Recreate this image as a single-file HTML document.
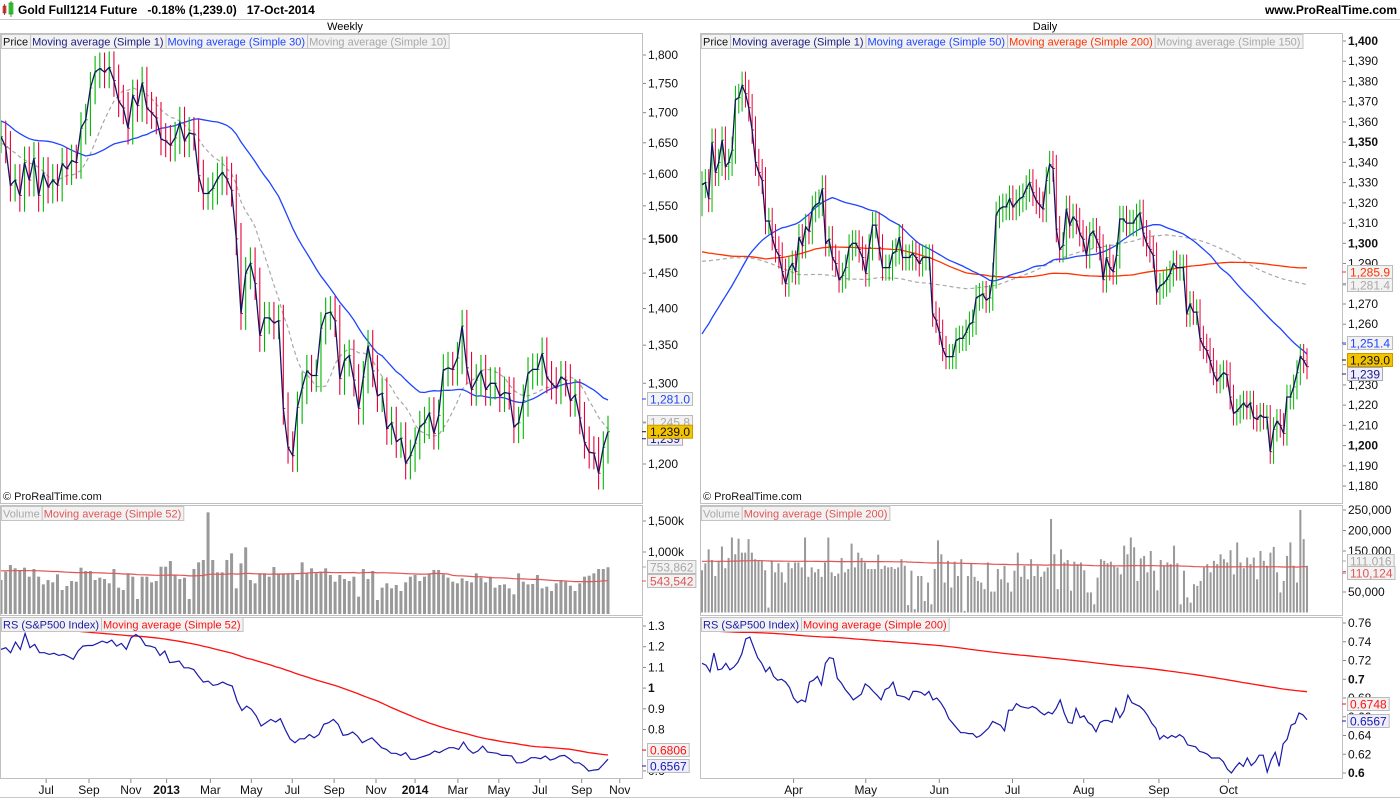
<!DOCTYPE html>
<html><head><meta charset="utf-8">
<style>
html,body{margin:0;padding:0;background:#fff;}
svg{display:block;font-family:"Liberation Sans",Arial,sans-serif;}
</style></head>
<body>
<svg id="chart" width="1400" height="800" viewBox="0 0 1400 800" xmlns="http://www.w3.org/2000/svg"></svg>
<script>
// ---------- DATA ----------
const W_PRIOR = [1720,1740,1760,1790,1720,1750,1710,1690,1600,1610,1600,1630,1660,1690,1730,1740,1720,1760,1780,1700,1710,1670,1660,1640,1630,1660,1650,1640,1620,1660];
const W_CLOSE = [1660,1643,1582,1590,1566,1618,1590,1625,1566,1601,1579,1590,1582,1616,1608,1621,1618,1674,1688,1742,1770,1776,1770,1778,1755,1720,1708,1674,1729,1712,1751,1708,1700,1691,1656,1653,1646,1658,1683,1653,1666,1664,1597,1569,1569,1577,1592,1602,1592,1574,1500,1393,1450,1464,1435,1363,1387,1387,1380,1383,1268,1220,1210,1269,1294,1316,1310,1310,
1373,1393,1395,1383,1306,1330,1336,1304,1268,1308,1349,1316,1284,1287,1243,1250,1227,1231,1201,1210,1225,1245,1250,1262,1237,1259,1317,1320,1318,1333,1376,1320,1292,1304,1316,1292,1300,1300,1284,1288,1287,1245,1250,1278,1313,1318,1318,1339,1308,1300,1294,1308,1304,1278,1285,1256,1226,1214,1213,1189,1220,1239];
const W_VOL = [548,683,790,737,710,747,602,726,602,478,548,511,640,387,452,532,521,747,694,694,548,586,564,495,726,425,387,656,602,242,602,602,511,532,763,763,855,629,564,586,242,726,833,871,1640,871,672,672,871,978,414,817,1075,548,495,656,656,602,758,656,656,656,656,548,833,656,737,656,683,737,629,521,629,564,532,602,280,726,564,694,226,425,495,414,468,371,511,602,629,532,602,656,710,710,640,586,521,495,575,532,511,656,586,511,602,425,468,478,414,317,656,521,478,484,629,414,441,371,495,548,521,457,371,495,602,618,656,726,726,754];
const W_VOL_PRIOR = 700;
const W_RS = [1.187,1.195,1.171,1.222,1.187,1.264,1.195,1.211,1.171,1.171,1.163,1.168,1.158,1.163,1.152,1.139,1.179,1.203,1.206,1.206,1.216,1.227,1.219,1.232,1.203,1.216,1.187,1.243,1.259,1.243,1.206,1.203,1.195,1.158,1.179,1.123,1.126,1.131,1.098,1.098,1.090,1.058,1.029,1.034,1.013,1.018,1.029,1.018,1.010,0.937,0.892,0.913,0.897,0.865,0.817,0.833,0.849,0.836,0.852,0.800,0.755,0.736,0.755,0.755,0.776,0.760,0.776,0.825,0.833,0.849,0.825,0.772,0.776,0.788,0.768,0.736,0.749,0.760,0.736,0.712,0.704,0.685,0.685,0.675,0.688,0.656,0.656,0.665,0.672,0.680,0.696,0.688,0.701,0.712,0.712,0.704,0.739,0.704,0.685,0.696,0.720,0.691,0.688,0.685,0.675,0.675,0.672,0.639,0.639,0.648,0.664,0.664,0.659,0.672,0.652,0.659,0.672,0.675,0.659,0.639,0.639,0.623,0.599,0.604,0.607,0.631,0.6567];
const W_RS_PRIOR = 1.32;
const W_XLABELS = ['Jul','Sep','Nov','2013','Mar','May','Jul','Sep','Nov','2014','Mar','May','Jul','Sep','Nov'];
const W_XIDX = [9.6,18.7,27.6,35.2,44.5,53.2,61.9,70.8,79.7,88.0,97.1,105.8,114.5,123.4,131.5];
const W_PRICE_TICKS = [1200,1250,1300,1350,1400,1450,1500,1550,1600,1650,1700,1750,1800];
const W_VOL_TICKS = [1000,1500];
const W_RS_TICKS = [0.6,0.7,0.8,0.9,1,1.1,1.2,1.3];

const D_START_WEEK = 96;
const D_CLOSE = [1329,1330,1322,1350,1335,1340,1351,1338,1340,1346,1371,1372,1378,1374,1367,1356,1340,1335,1331,1311,1311,1303,1297,1294,1286,1280,1287,1290,1286,1303,1299,1308,1306,1317,1319,1320,1327,1300,1302,1293,1290,1282,1284,1288,1298,1300,1300,1297,1293,1285,1298,1309,1309,1298,1288,1288,1288,1295,1296,1303,1293,1293,1293,1295,1293,1290,1293,1293,1293,1265,1262,1256,1248,1244,1244,1244,1252,1253,1253,1256,1260,1261,1273,1274,1275,1272,1273,1284,1314,1317,1318,1318,1322,1318,1320,1322,
1323,1327,1330,1325,1321,1319,1317,1331,1339,1337,1307,1297,1299,1317,1309,1313,1311,1305,1302,1294,1304,1306,1302,1298,1282,1293,1288,1286,1294,1312,1312,1310,1310,1310,1313,1315,1305,1300,1297,1294,1276,1279,1280,1282,1285,1290,1288,1288,1288,1265,1270,1266,1266,1253,1249,1247,1242,1236,1232,1234,1236,1235,1224,1216,1217,1219,1221,1219,1221,1214,1213,1215,1214,1214,1197,1208,1212,1210,1206,1224,1224,1229,1236,1244,1242,1239];
const D_VOL = [103,120,154,128,89,126,161,108,133,183,142,180,146,146,179,146,130,128,126,103,12,126,98,120,98,73,122,108,122,122,110,183,87,110,98,106,87,122,183,98,89,95,133,98,106,168,110,146,133,122,106,106,106,141,106,114,110,111,106,110,130,114,18,102,8,89,89,28,73,20,106,176,142,73,126,61,124,89,130,4,89,120,87,77,73,57,122,51,51,106,81,114,73,51,102,146,87,114,81,130,89,114,87,100,110,228,142,57,154,122,128,53,124,118,122,103,49,49,20,85,130,126,120,124,114,110,93,163,142,183,159,77,132,138,98,150,102,54,128,115,122,118,163,120,20,102,37,24,69,65,77,110,118,98,126,118,142,130,122,152,93,171,122,108,134,118,134,81,150,126,114,146,160,98,49,77,138,171,114,73,250,179,114];
const D_VOL_PRIOR = 125;
const D_RS = [0.717,0.715,0.708,0.728,0.710,0.711,0.717,0.710,0.713,0.718,0.727,0.743,0.745,0.734,0.723,0.717,0.708,0.713,0.703,0.699,0.700,0.697,0.691,0.680,0.675,0.678,0.676,0.697,0.699,0.703,0.694,0.717,0.723,0.722,0.701,0.696,0.689,0.684,0.678,0.681,0.684,0.695,0.692,0.687,0.683,0.678,0.689,0.691,0.697,0.683,0.682,0.681,0.678,0.687,0.687,0.686,0.683,0.687,0.678,0.680,0.675,0.668,0.658,0.653,0.648,0.643,0.643,0.642,0.642,0.638,0.640,0.644,0.648,0.655,0.653,0.651,0.645,0.667,0.667,0.674,0.671,0.670,0.669,0.671,0.669,0.665,0.662,0.665,0.663,0.669,0.678,0.664,0.654,0.653,0.669,0.659,0.661,0.654,0.651,0.644,0.654,0.656,0.656,0.654,0.669,0.659,0.666,0.683,0.675,0.673,0.671,0.667,0.661,0.653,0.648,0.636,0.640,0.637,0.640,0.638,0.641,0.638,0.630,0.629,0.628,0.623,0.622,0.620,0.616,0.616,0.616,0.612,0.604,0.600,0.606,0.611,0.607,0.616,0.608,0.612,0.619,0.619,0.601,0.614,0.622,0.607,0.631,0.636,0.651,0.653,0.664,0.662,0.6567];
const D_RS_PRIOR = 0.752;
const D_XLABELS = ['Apr','May','Jun','Jul','Aug','Sep','Oct'];
const D_XIDX = [27.4,49.0,71.0,92.9,114.2,136.7,157.5];
const D_PRICE_TICKS = [1180,1190,1200,1210,1220,1230,1240,1250,1260,1270,1280,1290,1300,1310,1320,1330,1340,1350,1360,1370,1380,1390,1400];
const D_VOL_TICKS = [50,100,150,200,250];
const D_RS_TICKS = [0.6,0.62,0.64,0.66,0.68,0.7,0.72,0.74,0.76];

// ---------- HELPERS ----------
const NS = 'http://www.w3.org/2000/svg';
const svg = document.getElementById('chart');
function mk(tag, attrs, parent){
  const e = document.createElementNS(NS, tag);
  for (const k in attrs) e.setAttribute(k, attrs[k]);
  (parent || svg).appendChild(e);
  return e;
}
function sma(series, prior, n){
  const full = prior.concat(series), out = [];
  for (let i = 0; i < series.length; i++){
    const end = prior.length + i, st = Math.max(0, end - n + 1);
    let s = 0; for (let j = st; j <= end; j++) s += full[j];
    out.push(s / (end - st + 1));
  }
  return out;
}
function fill(v, n){ return Array(n).fill(v); }
function fmt(v){ return v.toLocaleString('en-US'); }
function pathFrom(arr, xf, yf){
  return arr.map((v,i)=>(i?'L':'M')+xf(i).toFixed(1)+' '+yf(v).toFixed(1)).join(' ');
}

// ---------- GEOMETRY ----------
const L = {x0:0, x1:642}, R = {x0:700, x1:1342};
const P = {y0:33, y1:503}, V = {y0:505, y1:615}, S = {y0:617, y1:778};

const hdr = mk('g', {});


mk('rect', {x:3, y:6, width:3, height:7, fill:'#e05050', stroke:'#a02020', 'stroke-width':0.6}, hdr);
mk('line', {x1:4.5, y1:4, x2:4.5, y2:15, stroke:'#a02020', 'stroke-width':0.8}, hdr);
mk('rect', {x:9, y:3, width:4, height:11, fill:'#40e040', stroke:'#108010', 'stroke-width':0.6}, hdr);
mk('line', {x1:11, y1:1, x2:11, y2:17, stroke:'#108010', 'stroke-width':0.8}, hdr);
const ht = mk('text', {x:18, y:14, 'font-size':12, 'font-weight':'bold', fill:'#000'}, hdr);
ht.textContent = 'Gold Full1214 Future   -0.18% (1,239.0)   17-Oct-2014';
ht.style.whiteSpace = 'pre';


const web = mk('text', {x:1397, y:14, 'font-size':12, 'font-weight':'bold', 'text-anchor':'end', fill:'#000'}, hdr);
web.textContent = 'www.ProRealTime.com';


mk('line', {x1:0, y1:19.5, x2:1400, y2:19.5, stroke:'#c8c8c8'}, hdr);
mk('line', {x1:0, y1:797.5, x2:1400, y2:797.5, stroke:'#c8c8c8'}, hdr);
const wk = mk('text', {x:345, y:30, 'font-size':11, 'text-anchor':'middle'}, hdr);
wk.textContent = 'Weekly';


const dy = mk('text', {x:1045, y:30, 'font-size':11, 'text-anchor':'middle'}, hdr);
dy.textContent = 'Daily';



let clipN = 0;
function panel(side, band, name){
  const g = mk('g', {});
  
  
  mk('rect', {x:side.x0+0.5, y:band.y0+0.5, width:side.x1-side.x0, height:band.y1-band.y0, fill:'#fff', stroke:'#c0c0c0'}, g);
  const id = 'c' + (clipN++);
  const cp = mk('clipPath', {id:id}, g);
  mk('rect', {x:side.x0+1, y:band.y0+1, width:side.x1-side.x0-1, height:band.y1-band.y0-1}, cp);
  const inner = mk('g', {'clip-path':'url(#'+id+')'}, g);
  return {g, inner};
}
function legend(parent, x, y, items){
  const g = mk('g', {}, parent);
  
  
  let cx = x;
  items.forEach(it=>{
    const r = mk('rect', {x:cx+0.5, y:y+0.5, width:10, height:14, fill:'#f2f2f2', stroke:'#c4c4c4'}, g);
    const t = mk('text', {x:cx+2, y:y+11.5, 'font-size':11, fill:it[1]}, g);
    t.textContent = it[0];
    
    
    const w = t.getComputedTextLength() + 4;
    r.setAttribute('width', w);
    cx += w;
  });
}
function yTicks(parent, xAxis, ticks, yf, lab, boldSet){
  const g = mk('g', {}, parent);
  
  
  ticks.forEach(v=>{
    const y = yf(v);
    mk('line', {x1:xAxis+1, y1:y, x2:xAxis+4, y2:y, stroke:'#888'}, g);
    const t = mk('text', {x:xAxis+6, y:y+4, 'font-size':12, fill:'#111', 'font-weight': boldSet.includes(v)?'bold':'normal'}, g);
    t.textContent = lab(v);
    
    
  });
}
function valBox(parent, x, y, text, color, bg, border){
  const g = mk('g', {}, parent);
  
  
  mk('line', {x1:x-5, y1:y, x2:x-1, y2:y, stroke:color}, g);
  const r = mk('rect', {x:x+0.5, y:y-6.5, width:40, height:13, fill:bg, stroke:border}, g);
  const t = mk('text', {x:x+3, y:y+4.5, 'font-size':12, fill:color}, g);
  t.textContent = text;
  r.setAttribute('width', t.getComputedTextLength()+5);
}
function bars(parent, closes, first, xf, yf, padFrac, sw){
  const g = mk('g', {}, parent);
  
  
  closes.forEach((c,i)=>{
    const o = i ? closes[i-1] : first;
    const hi = Math.max(o,c)*(1+padFrac), lo = Math.min(o,c)*(1-padFrac);
    const col = c >= o ? '#00b400' : '#e8003c';
    const x = xf(i);
    const b = mk('line', {x1:x, y1:yf(hi), x2:x, y2:yf(lo), stroke:col, 'stroke-width':sw}, g);
    
    
    mk('line', {x1:x, y1:yf(c), x2:x+2, y2:yf(c), stroke:col, 'stroke-width':1}, g);
  });
  const ln = mk('path', {d:pathFrom(closes, xf, yf), fill:'none', stroke:'#14145e', 'stroke-width':1.3}, g);
  
  
}
function line(parent, arr, xf, yf, color, name, dash, w){
  const p = mk('path', {d:pathFrom(arr, xf, yf), fill:'none', stroke:color, 'stroke-width':w||1.3}, parent);
  if (dash) p.setAttribute('stroke-dasharray', dash);
  
  
}
function volBars(parent, vals, xf, yf, y0, bw){
  const g = mk('g', {}, parent);
  
  
  vals.forEach((v,i)=>{
    const r = mk('rect', {x:xf(i)-bw/2, y:yf(v), width:bw, height:Math.max(0,y0-yf(v)), fill:'#999'}, g);
    
    
  });
}
function xAxis(side, labels, idx, xf){
  const g = mk('g', {});
  
  
  labels.forEach((l,i)=>{
    const x = xf(idx[i]);
    mk('line', {x1:x, y1:779, x2:x, y2:783, stroke:'#888'}, g);
    const t = mk('text', {x:x, y:794, 'font-size':12, 'text-anchor':'middle', fill:'#111', 'font-weight': /^\d{4}$/.test(l)?'bold':'normal'}, g);
    t.textContent = l;
    
    
  });
}

// ---------- WEEKLY ----------
const wN = W_CLOSE.length;
const wx = i => 1 + i*(607/(wN-1));
const LN1800 = Math.log(1800);
const wy = p => 55 + (LN1800 - Math.log(p))*1008.7;
const wvy = v => 614 - v*0.062;
const wsy = v => 626 + (1.3 - v)*207;

let pp = panel(L, P, 'weekly-price-panel');
yTicks(pp.g, L.x1, W_PRICE_TICKS, wy, fmt, [1500]);
const wma30 = sma(W_CLOSE, W_PRIOR, 30), wma10 = sma(W_CLOSE, W_PRIOR, 10);
line(pp.inner, wma10, wx, wy, '#a8a8a8', 'weekly-ma10-line', '4,3', 1.2);
line(pp.inner, wma30, wx, wy, '#1f45ff', 'weekly-ma30-line');
bars(pp.inner, W_CLOSE, W_PRIOR[W_PRIOR.length-1], wx, wy, 0.016, 1.1);
legend(pp.g, 1, 34, [['Price','#111'],['Moving average (Simple 1)','#1c1c80'],['Moving average (Simple 30)','#1f45ff'],['Moving average (Simple 10)','#a8a8a8']]);
let cr = mk('text', {x:3, y:500, 'font-size':11, fill:'#111'}, pp.g); cr.textContent = '© ProRealTime.com';
valBox(pp.g, 647, wy(W_CLOSE[wN-1])+7, fmt(W_CLOSE[wN-1]), '#1c1c80', '#eef', '#aaa');
valBox(pp.g, 647, 399, '1,281.0', '#1f45ff', '#f2f2f2', '#bbb');
valBox(pp.g, 647, 422, '1,245.8', '#a8a8a8', '#f2f2f2', '#bbb');
valBox(pp.g, 647, wy(W_CLOSE[wN-1]), '1,239.0', '#111', '#f5c400', '#c99a00');

let vp = panel(L, V, 'weekly-volume-panel');
const wvx = i => 1 + i*(607/(W_VOL.length-1));
yTicks(vp.g, L.x1, W_VOL_TICKS, wvy, v=>fmt(v)+'k', []);
volBars(vp.inner, W_VOL, wvx, wvy, 614, 3);
const wvma = sma(W_VOL, fill(W_VOL_PRIOR,52), 52);
line(vp.inner, wvma, wvx, wvy, '#e05555', 'weekly-volume-ma52-line', null, 1.2);
legend(vp.g, 1, 506, [['Volume','#a8a8a8'],['Moving average (Simple 52)','#e05555']]);
valBox(vp.g, 647, 567, '753,862', '#a8a8a8', '#f2f2f2', '#bbb');
valBox(vp.g, 647, 581, '543,542', '#e05555', '#f2f2f2', '#bbb');

let sp = panel(L, S, 'weekly-rs-panel');
const wsx = i => 1 + i*(607/(W_RS.length-1));
yTicks(sp.g, L.x1, W_RS_TICKS, wsy, v=>String(v), [1]);
const wrsma = sma(W_RS, fill(W_RS_PRIOR,52), 52);
line(sp.inner, wrsma, wsx, wsy, '#ff1010', 'weekly-rs-ma52-line');
line(sp.inner, W_RS, wsx, wsy, '#1a1aa8', 'weekly-rs-line', null, 1.2);
legend(sp.g, 1, 617, [['RS (S&P500 Index)','#1a1aa8'],['Moving average (Simple 52)','#ff1010']]);
valBox(sp.g, 647, 750, '0.6806', '#ff1010', '#f2f2f2', '#bbb');
valBox(sp.g, 647, 766, '0.6567', '#1a1aa8', '#eef', '#bbb');
xAxis(L, W_XLABELS, W_XIDX, wx);

// ---------- DAILY ----------
const dN = D_CLOSE.length;
const dPrior = [];
W_CLOSE.slice(D_START_WEEK-40, D_START_WEEK).forEach(v=>{ for(let k=0;k<5;k++) dPrior.push(v); });
const dx = i => 702 + i*(605/(dN-1));
const dyf = p => 41 + (1400 - p)*2.023;
const dvy = v => 612.5 - v*0.41;
const dsy = v => 623 + (0.76 - v)*937.5;

pp = panel(R, P, 'daily-price-panel');
yTicks(pp.g, R.x1, D_PRICE_TICKS, dyf, fmt, [1200,1250,1300,1350,1400]);
const dma50 = sma(D_CLOSE, dPrior, 50), dma200 = sma(D_CLOSE, dPrior, 200), dma150 = sma(D_CLOSE, dPrior, 150);
line(pp.inner, dma150, dx, dyf, '#a8a8a8', 'daily-ma150-line', '4,3', 1.2);
line(pp.inner, dma200, dx, dyf, '#ff3300', 'daily-ma200-line');
line(pp.inner, dma50, dx, dyf, '#1f45ff', 'daily-ma50-line');
bars(pp.inner, D_CLOSE, W_CLOSE[D_START_WEEK-1], dx, dyf, 0.005, 1);
legend(pp.g, 701, 34, [['Price','#111'],['Moving average (Simple 1)','#1c1c80'],['Moving average (Simple 50)','#1f45ff'],['Moving average (Simple 200)','#ff3300'],['Moving average (Simple 150)','#a8a8a8']]);
cr = mk('text', {x:703, y:500, 'font-size':11, fill:'#111'}, pp.g); cr.textContent = '© ProRealTime.com';
valBox(pp.g, 1347, 272, '1,285.9', '#ff3300', '#f2f2f2', '#bbb');
valBox(pp.g, 1347, 285, '1,281.4', '#a8a8a8', '#f2f2f2', '#bbb');
valBox(pp.g, 1347, 343, '1,251.4', '#1f45ff', '#f2f2f2', '#bbb');
valBox(pp.g, 1347, 374, '1,239', '#1c1c80', '#eef', '#aaa');
valBox(pp.g, 1347, 360, '1,239.0', '#111', '#f5c400', '#c99a00');

vp = panel(R, V, 'daily-volume-panel');
const dvx = i => 702 + i*(605/(D_VOL.length-1));
yTicks(vp.g, R.x1, D_VOL_TICKS, dvy, v=>fmt(v*1000), []);
volBars(vp.inner, D_VOL, dvx, dvy, 612.5, 2);
const dvma = sma(D_VOL, fill(D_VOL_PRIOR,200), 200);
line(vp.inner, dvma, dvx, dvy, '#e05555', 'daily-volume-ma200-line', null, 1.2);
legend(vp.g, 701, 506, [['Volume','#a8a8a8'],['Moving average (Simple 200)','#e05555']]);
valBox(vp.g, 1347, 561, '111,016', '#a8a8a8', '#f2f2f2', '#bbb');
valBox(vp.g, 1347, 573, '110,124', '#e05555', '#f2f2f2', '#bbb');

sp = panel(R, S, 'daily-rs-panel');
const dsx = i => 702 + i*(605/(D_RS.length-1));
yTicks(sp.g, R.x1, D_RS_TICKS, dsy, v=>String(v), [0.6,0.7]);
const drsma = sma(D_RS, fill(D_RS_PRIOR,200), 200);
line(sp.inner, drsma, dsx, dsy, '#ff1010', 'daily-rs-ma200-line');
line(sp.inner, D_RS, dsx, dsy, '#1a1aa8', 'daily-rs-line', null, 1.2);
legend(sp.g, 701, 617, [['RS (S&P500 Index)','#1a1aa8'],['Moving average (Simple 200)','#ff1010']]);
valBox(sp.g, 1347, 704, '0.6748', '#ff1010', '#f2f2f2', '#bbb');
valBox(sp.g, 1347, 721, '0.6567', '#1a1aa8', '#eef', '#bbb');
xAxis(R, D_XLABELS, D_XIDX, dx);
</script>
</body></html>
